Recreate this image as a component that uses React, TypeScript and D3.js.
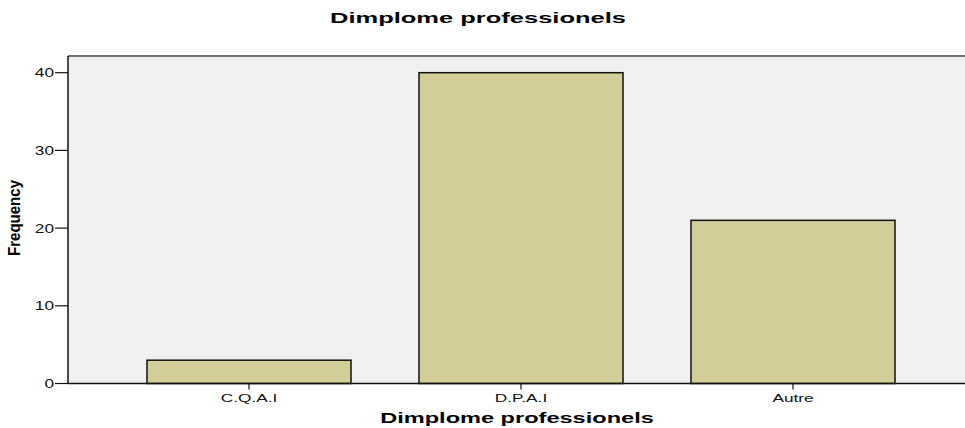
import React from "react";
import * as d3 from "d3";

const categories = ["C.Q.A.I", "D.P.A.I", "Autre"];
const frequencies = [3, 40, 21];
const yTicks = [0, 10, 20, 30, 40];
const title = "Dimplome professionels";
const xTitle = "Dimplome professionels";
const yTitle = "Frequency";

export default function App() {
  const W = 965, H = 428;
  const left = 68, right = 965, top = 56, bottom = 383.5;
  const x = d3.scaleBand<string>().domain(categories).range([113, 929]).paddingInner(0.25).paddingOuter(0.125);
  const y = d3.scaleLinear().domain([0, 40]).range([bottom, 72.7]);
  const font = "Liberation Sans, Arial, sans-serif";
  return (
    <svg width={W} height={H} style={{ position: "absolute", left: 0, top: 0, background: "#fff" }}>
      <rect x={left} y={top} width={right - left} height={bottom - top} fill="#f0f0f0" />
      <line x1={left} x2={right} y1={top} y2={top} stroke="#707070" strokeWidth={2} />
      {categories.map((c, i) => (
        <rect key={c} x={x(c)} y={y(frequencies[i])} width={x.bandwidth()} height={bottom - y(frequencies[i])}
          fill="#d3ce98" stroke="#111" strokeWidth={1.5} />
      ))}
      <line x1={left} x2={left} y1={top} y2={bottom} stroke="#111" strokeWidth={1.5} />
      <line x1={left} x2={right} y1={bottom} y2={bottom} stroke="#111" strokeWidth={1.5} />
      {yTicks.map(t => (
        <g key={t}>
          <line x1={left - 13} x2={left} y1={y(t)} y2={y(t)} stroke="#111" strokeWidth={1.2} />
          <text transform={`translate(${left - 14},${y(t) + 4.5}) scale(1.38,1)`} textAnchor="end" fontFamily={font} fontSize={12.5} fill="#111">{t}</text>
        </g>
      ))}
      {categories.map(c => (
        <g key={c}>
          <line x1={x(c)! + x.bandwidth() / 2} x2={x(c)! + x.bandwidth() / 2} y1={bottom} y2={bottom + 6} stroke="#111" strokeWidth={1.2} />
          <text transform={`translate(${x(c)! + x.bandwidth() / 2},${bottom + 18}) scale(1.5,1)`} textAnchor="middle" fontFamily={font} fontSize={11.5} fill="#111">{c}</text>
        </g>
      ))}
      <text transform="translate(478,23) scale(1.7,1)" textAnchor="middle" fontFamily={font} fontWeight="bold" fontSize={15} fill="#000">{title}</text>
      <text transform="translate(517,423) scale(1.52,1)" textAnchor="middle" fontFamily={font} fontWeight="bold" fontSize={15.5} fill="#000">{xTitle}</text>
      <text transform={`translate(20,218) rotate(-90)`} textAnchor="middle" fontFamily={font}
        fontWeight="bold" fontSize={17} textLength={76} lengthAdjust="spacingAndGlyphs" fill="#000">{yTitle}</text>
    </svg>
  );
}
